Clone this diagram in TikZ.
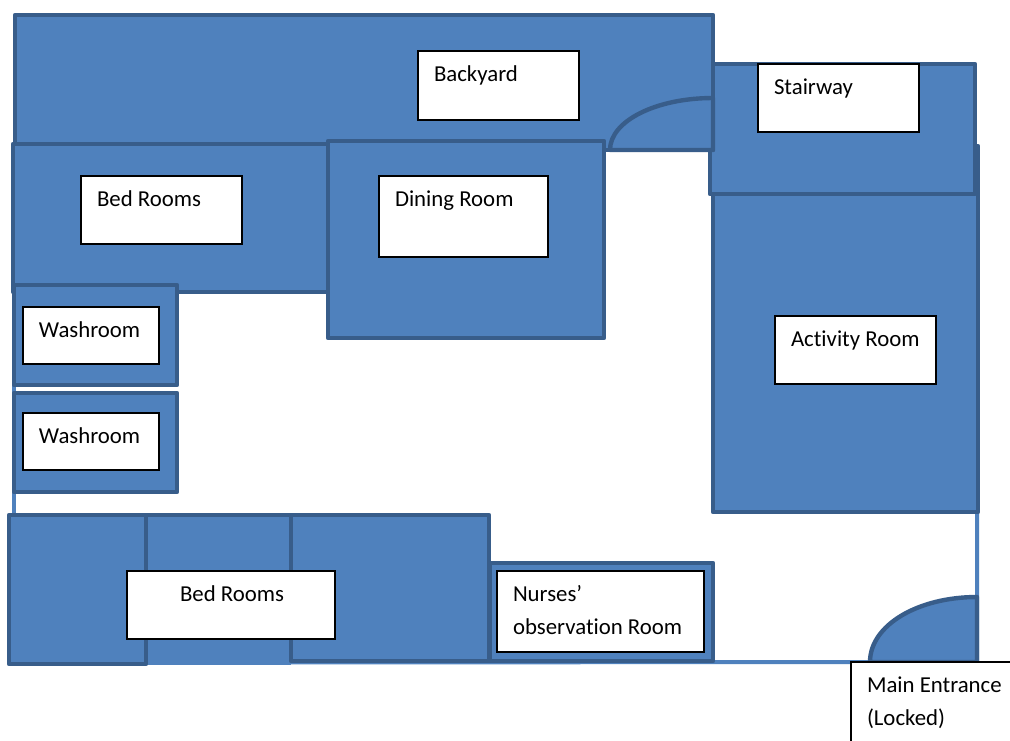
\documentclass[tikz,border=0pt]{standalone}
\usepackage{fontspec}
\setmainfont[Ligatures=NoCommon]{Carlito}
\definecolor{roomfill}{HTML}{4F81BD}
\definecolor{roomline}{HTML}{385D8A}
\tikzset{
  room/.style={fill=roomfill,draw=roomline,line width=4.4pt,line join=round},
  wall/.style={draw=roomfill,line width=4pt},
  labelbox/.style={draw=black,fill=white,line width=1.1pt,anchor=north west,inner sep=0pt,outer sep=0pt}
}
% name, x, y, width, height, left pad, text
\newcommand{\roomlabel}[7]{%
  \node[labelbox] (#1) at (#2,#3) {\parbox[c][#5pt][t]{#4pt}{\fontsize{22.8}{33}\selectfont\raggedright\hspace*{#6pt}\rule{0pt}{30pt}#7}};}
\begin{document}
\begin{tikzpicture}[x=1pt,y=-1pt]
\clip (0,0) rectangle (1010,740);
\fill[white] (0,0) rectangle (1010,740);
% thin outer walls
\coordinate (wallA) at (14,144);
\coordinate (wallB) at (14,520);
\coordinate (wallC) at (977,510);
\coordinate (wallD) at (977,662);
\coordinate (wallE) at (146,662.5);
\draw[wall] (wallA) -- (wallB);
\draw[wall] (wallC) -- (wallD) -- (wallE);
% rooms
\draw[room] (713,146) rectangle (978,512);
\draw[room] (710,64) rectangle (975,194);
\draw[room] (15,15) rectangle (713,150);
\draw[room] (610,150) .. controls (610,121) and (656,98) .. (713,98) -- (713,150) -- cycle;
\draw[room] (13,144) rectangle (328,292);
\draw[room] (328,141) rectangle (604,338);
\draw[room] (14,285) rectangle (177,385);
\draw[room] (14,393) rectangle (177,492);
\fill[roomfill] (146,515) rectangle (291,664.5);
\draw[roomline,line width=4.4pt] (146,515) -- (291,515);
\draw[room] (9,515) rectangle (146,664);
\draw[room] (291,515) rectangle (489,661);
\draw[room] (490,563) rectangle (713,661);
\draw[room] (870,662) .. controls (870,625) and (918,597) .. (977,597) -- (977,662) -- cycle;
% labels
\roomlabel{backyard}{418}{51}{161}{69}{16}{Backyard}
\roomlabel{stairway}{758}{64}{161}{68}{16}{Stairway}
\roomlabel{bedtop}{81}{176}{161}{68}{16}{Bed Rooms}
\roomlabel{dining}{379}{176}{169}{81}{16}{Dining Room}
\roomlabel{activity}{775}{316}{161}{68}{16}{Activity Room}
\roomlabel{washa}{23}{307}{136}{57}{16}{Washroom}
\roomlabel{washb}{23}{413}{136}{57}{16}{Washroom}
\roomlabel{bedbottom}{127}{571}{208}{68}{53}{Bed Rooms}
\roomlabel{nurses}{497}{571}{207}{81}{16}{Nurses’\\\hspace*{16pt}observation Room}
\roomlabel{entrance}{851}{662}{170}{90}{16}{Main Entrance\\\hspace*{16pt}(Locked)}
\end{tikzpicture}
\end{document}
